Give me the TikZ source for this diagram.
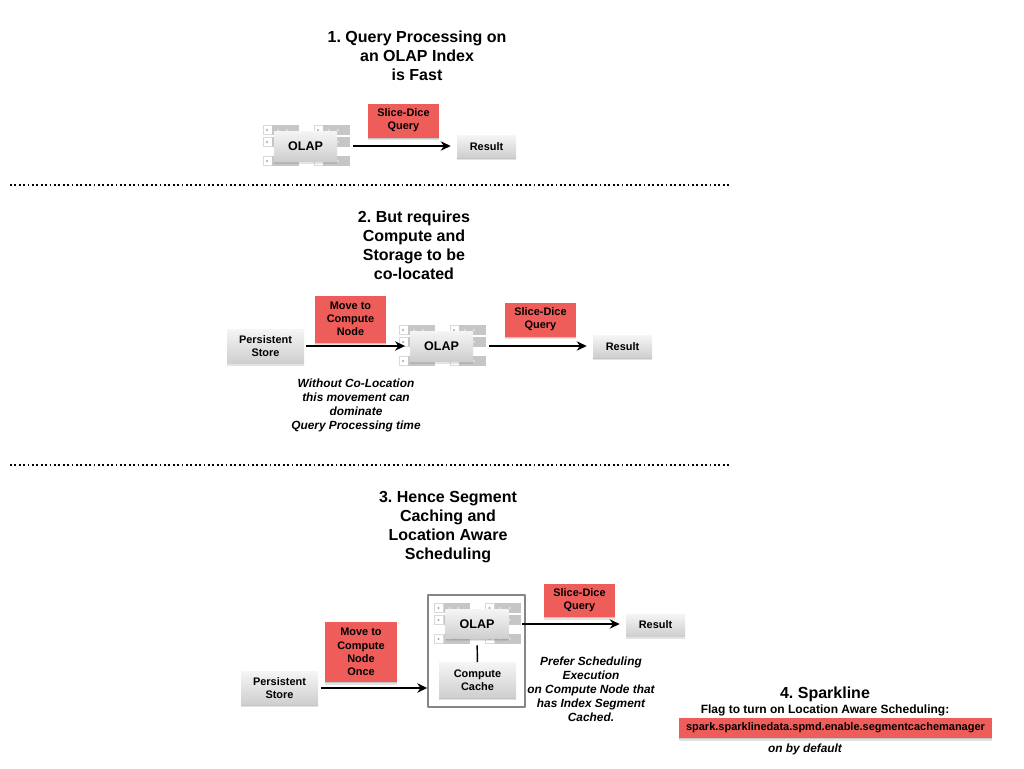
\documentclass[tikz,border=0pt]{standalone}
\usepackage{fontspec}
\setmainfont{Liberation Sans}
\usetikzlibrary{shadows, arrows.meta}
\definecolor{boxred}{HTML}{EE5D59}
\definecolor{cellgray}{HTML}{C6C6C6}
\frenchspacing
\begin{document}
\begin{tikzpicture}[x=0.75pt, y=-0.75pt, line join=round,
	softshadow/.style={drop shadow={shadow xshift=0.2pt, shadow yshift=-2.1pt, opacity=0.22},
		drop shadow={shadow xshift=0.1pt, shadow yshift=-1.1pt, opacity=0.3}},
	title/.style={font=\bfseries\fontsize{12}{14.25}\selectfont, align=center},
	note/.style={font=\bfseries\itshape\fontsize{8.9}{10.5}\selectfont, align=center},
	graybox/.style={font=\bfseries\fontsize{8.2}{9.9}\selectfont, align=center, inner sep=0pt,
		top color=gray!8, bottom color=gray!38, softshadow},
	redbox/.style={font=\bfseries\fontsize{8.2}{9.9}\selectfont, align=center, inner sep=0pt,
		fill=boxred, softshadow},
	arrowline/.style={line width=1.4pt, black, -{Stealth[length=7.5pt, width=7pt]}},
	sepline/.style={line width=1.3pt, dotted},
	cellw/.style={fill=white, draw=gray!30, line width=0.3pt},
	cellg/.style={fill=cellgray},
	olapgrid/.pic={
		\foreach \dx in {-42.5,8.5}
			\foreach \dy in {-21,-9,10} {
				\path[cellw] (\dx,\dy) rectangle ++(9,9.5);
				\path[cellg] (\dx+9,\dy) rectangle ++(26.5,9.5);
				\fill[gray!70] (\dx+4,\dy+5) circle (1.1);
				\fill[gray!20] (\dx+15,\dy+5) circle (1.1);
				\fill[gray!20] (\dx+24,\dy+5) circle (1.1);
			}
	}]
	\useasboundingbox (0,0) rectangle (1024,768);
	% Section 1
	\node[title] (titleA) at (417,56) {1. Query Processing on\\an OLAP Index\\is Fast};
	\pic at (305.5,146) {olapgrid};
	\node[graybox, minimum width=47.25pt, minimum height=22.5pt] (olapA) at (305.5,146) {\fontsize{9.4}{11}\selectfont OLAP};
	\node[redbox, minimum width=53.25pt, minimum height=25.5pt] (queryA) at (403.5,120.5) {Slice-Dice\\Query};
	\node[graybox, minimum width=44.25pt, minimum height=16.5pt] (resultA) at (486.5,146.5) {Result};
	\draw[arrowline, shorten <=12pt, shorten >=4.5pt] (olapA.east) -- (olapA.east -| resultA.west);
	\coordinate (sepAl) at (10,185);
	\coordinate (sepAr) at (731,185);
	\draw[sepline] (sepAl) -- (sepAr);
	% Section 2
	\node[title] (titleB) at (414,245.5) {2. But requires\\Compute and\\Storage to be\\co-located};
	\node[graybox, minimum width=57.75pt, minimum height=25.5pt] (storeB) at (265.5,346) {Persistent\\Store};
	\node[redbox, minimum width=53.25pt, minimum height=35.25pt] (moveB) at (350.5,319) {Move to\\Compute\\Node};
	\pic at (441.5,346) {olapgrid};
	\node[graybox, minimum width=47.25pt, minimum height=22.5pt] (olapB) at (441.5,346) {\fontsize{9.4}{11}\selectfont OLAP};
	\node[redbox, minimum width=53.25pt, minimum height=25.5pt] (queryB) at (540.5,319.5) {Slice-Dice\\Query};
	\node[graybox, minimum width=44.25pt, minimum height=16.5pt] (resultB) at (622.5,346.5) {Result};
	\draw[arrowline, shorten <=1.5pt, shorten >=3.5pt] (storeB) -- (olapB);
	\draw[arrowline, shorten <=12pt, shorten >=4.5pt] (olapB.east) -- (olapB.east -| resultB.west);
	\node[note] (noteB) at (356,405) {Without Co-Location\\this movement can\\dominate\\Query Processing time};
	\coordinate (sepBl) at (10,465);
	\coordinate (sepBr) at (731,465);
	\draw[sepline] (sepBl) -- (sepBr);
	% Section 3
	\node[title] (titleC) at (448,527) {3. Hence Segment\\Caching and\\Location Aware\\Scheduling};
	\node[draw=gray!95, line width=1.1pt, minimum width=72.75pt, minimum height=84pt] (frameC) at (476.5,651) {};
	\pic at (477,624) {olapgrid};
	\node[graybox, minimum width=47.25pt, minimum height=21.75pt] (olapC) at (477,624) {\fontsize{9.4}{11}\selectfont OLAP};
	\node[graybox, minimum width=57.75pt, minimum height=26.25pt] (cacheC) at (477.5,680) {Compute\\Cache};
	\draw[line width=1.1pt, shorten <=5pt] (olapC) -- (cacheC);
	\node[graybox, minimum width=57.75pt, minimum height=24.75pt] (storeC) at (279.5,688) {Persistent\\Store};
	\node[redbox, minimum width=54pt, minimum height=45pt] (moveC) at (361,652) {Move to\\Compute\\Node\\Once};
	\node[redbox, minimum width=53.25pt, minimum height=24.75pt] (queryC) at (579.5,600.5) {Slice-Dice\\Query};
	\node[graybox, minimum width=44.25pt, minimum height=16.5pt] (resultC) at (655.5,625) {Result};
	\draw[arrowline, shorten <=2pt] (storeC.east) -- (frameC.west |- storeC.east);
	\draw[arrowline, shorten <=10pt, shorten >=4.5pt] (olapC.east) -- (resultC.west |- olapC.east);
	\node[note] (noteC) at (591,689) {Prefer Scheduling\\Execution\\on Compute Node that\\has Index Segment\\Cached.};
	% Section 4
	\node[font=\bfseries\fontsize{12}{14}\selectfont] (titleD) at (825,694) {4. Sparkline};
	\node[font=\bfseries\fontsize{9}{11}\selectfont] (flagD) at (825,710) {Flag to turn on Location Aware Scheduling:};
	\node[redbox, font=\bfseries\fontsize{8.25}{10}\selectfont, minimum width=234.75pt, minimum height=15pt] (keyD) at (835.5,728) {spark.sparklinedata.spmd.enable.segmentcachemanager};
	\node[note] (defaultD) at (805,749) {on by default};
\end{tikzpicture}
\end{document}
